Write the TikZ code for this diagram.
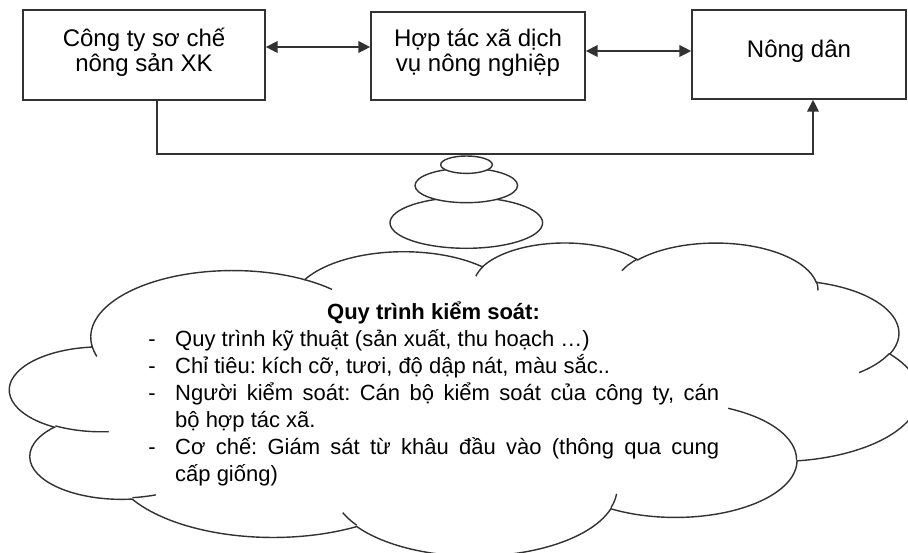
\documentclass[tikz,border=0pt]{standalone}
\usepackage{fontspec}
\setmainfont{Liberation Sans}
\usetikzlibrary{arrows.meta}
\definecolor{ln}{RGB}{50,50,50}
\tikzset{
  box/.style={draw=ln, line width=1.4pt, rectangle, inner sep=0pt},
  boxtext/.style={anchor=base, font=\fontsize{24}{25}\selectfont, inner sep=0pt},
  ctext/.style={anchor=base west, font=\fontsize{22}{27}\selectfont, inner sep=0pt},
  cdash/.style={anchor=base, font=\fontsize{22}{27}\selectfont, inner sep=0pt},
  ctitle/.style={anchor=base, font=\fontsize{22}{27}\selectfont\bfseries, inner sep=0pt},
  tip/.tip={Triangle[length=12pt,width=11.5pt]},
  conn/.style={draw=ln, line width=1.8pt, -tip},
  biconn/.style={draw=ln, line width=1.8pt, tip-tip},
  cloudline/.style={draw=ln, line width=1.4pt},
  carc/.style n args={4}{insert path={arc[x radius={#1*0.0210417pt}, y radius={#2*0.0072454pt},
    start angle={-atan2(#1*sin(#3),#2*cos(#3))},
    end angle={-atan2(#1*sin(#3),#2*cos(#3))-mod(atan2(#1*sin(#3+#4),#2*cos(#3+#4))-atan2(#1*sin(#3),#2*cos(#3))+720,360)}]}},
}
\frenchspacing
\begin{document}
\begin{tikzpicture}[x=1pt,y=-1pt]
\useasboundingbox (0,0) rectangle (908,552);
\fill[white] (0,0) rectangle (908,552);
\clip (0,0) rectangle (908,552);

% boxes
\node[box, minimum width=242pt, minimum height=90pt] (b1) at (144,55) {};
\node[box, minimum width=214pt, minimum height=88pt] (b2) at (478,56) {};
\node[box, minimum width=214pt, minimum height=89pt] (b3) at (799,54.5) {};
\node[boxtext] (b1t1) at (144,46) {Công ty sơ chế};
\node[boxtext] (b1t2) at (144,71) {nông sản XK};
\node[boxtext] (b2t1) at (478,46) {Hợp tác xã dịch};
\node[boxtext] (b2t2) at (478,71) {vụ nông nghiệp};
\node[boxtext] (b3t1) at (799,57) {Nông dân};

% connectors
\draw[biconn] ([yshift=8pt]b1.east) -- ([yshift=9pt]b2.west);
\draw[biconn] ([yshift=5pt]b2.east) -- ([yshift=3.5pt]b3.west);
\coordinate (turn) at (813,154);
\draw[conn] ([xshift=13pt]b1.south) |- (turn) -- ([xshift=14pt]b3.south);

% cloud outline
\filldraw[cloudline, fill=white] (92.06,346.12)
  [carc={6753}{9190}{-190.4875}{123.7805}]
  [carc={5333}{7267}{-144.1024}{89.9452}]
  [carc={4365}{5945}{-145.8079}{99.7230}]
  [carc={4857}{6595}{-130.9861}{117.2417}]
  [carc={5333}{7273}{-78.7089}{109.0269}]
  [carc={6775}{9220}{-46.2673}{130.2690}]
  [carc={5785}{7867}{0.6250}{114.0333}]
  [carc={6752}{9215}{22.4516}{115.1726}]
  [carc={7720}{10543}{66.2426}{75.7110}]
  [carc={4360}{5918}{-274.9421}{146.7356}]
  [carc={4345}{5945}{-246.8285}{152.5189}]
  -- cycle;
% cloud inner hooks
\draw[cloudline]
  (108.75,431.66) [carc={4345}{5945}{86.742}{26.4295}]
  (155.78,494.86) [carc={4360}{5918}{73.6105}{11.4475}]
  (356.72,525.22) [carc={6752}{9215}{137.6242}{14.0811}]
  (616.57,493.79) [carc={6752}{9215}{6.4533}{15.9984}]
  (728.13,408.31) [carc={5785}{7867}{-70.2924}{70.9174}]
  (889.50,353.25) [carc={5333}{7273}{30.3180}{27.7515}]
  (816.40,281.31) [carc={4857}{6595}{-13.7443}{14.8589}]
  (621.85,270.63) [carc={4857}{6595}{-149.1815}{18.1954}]
  (475.88,276.20) [carc={4365}{5945}{-163.4943}{17.6864}]
  (304.58,279.62) [carc={6753}{9190}{-66.7070}{12.3194}]
  (96.84,356.40)  [carc={6753}{9190}{157.6544}{11.8582}];

% thought bubbles
\draw[cloudline, fill=white] (466.3,222.8) ellipse [x radius=76.3pt, y radius=25.5pt];
\draw[cloudline, fill=white] (466.3,185.5) ellipse [x radius=51.3pt, y radius=17.2pt];
\draw[cloudline, fill=white] (466.5,164.7) ellipse [x radius=25.8pt, y radius=8.7pt];

% cloud text
\node[ctitle] (title) at (433.5,319) {Quy trình kiểm soát:};
\node[cdash] (d1) at (152,346) {-};
\node[cdash] (d2) at (152,373) {-};
\node[cdash] (d3) at (152,400) {-};
\node[cdash] (d4) at (152,454) {-};
\node[ctext] (l1) at (175,346) {Quy trình kỹ thuật (sản xuất, thu hoạch …)};
\node[ctext] (l2) at (175,373) {Chỉ tiêu: kích cỡ, tươi, độ dập nát, màu sắc..};
\node[ctext] (l3) at (175,400) {\makebox[544pt][s]{Người kiểm soát: Cán bộ kiểm soát của công ty, cán}};
\node[ctext] (l4) at (175,427) {bộ hợp tác xã.};
\node[ctext] (l5) at (175,454) {\makebox[544pt][s]{Cơ chế: Giám sát từ khâu đầu vào (thông qua cung}};
\node[ctext] (l6) at (175,481) {cấp giống)};
\end{tikzpicture}
\end{document}
